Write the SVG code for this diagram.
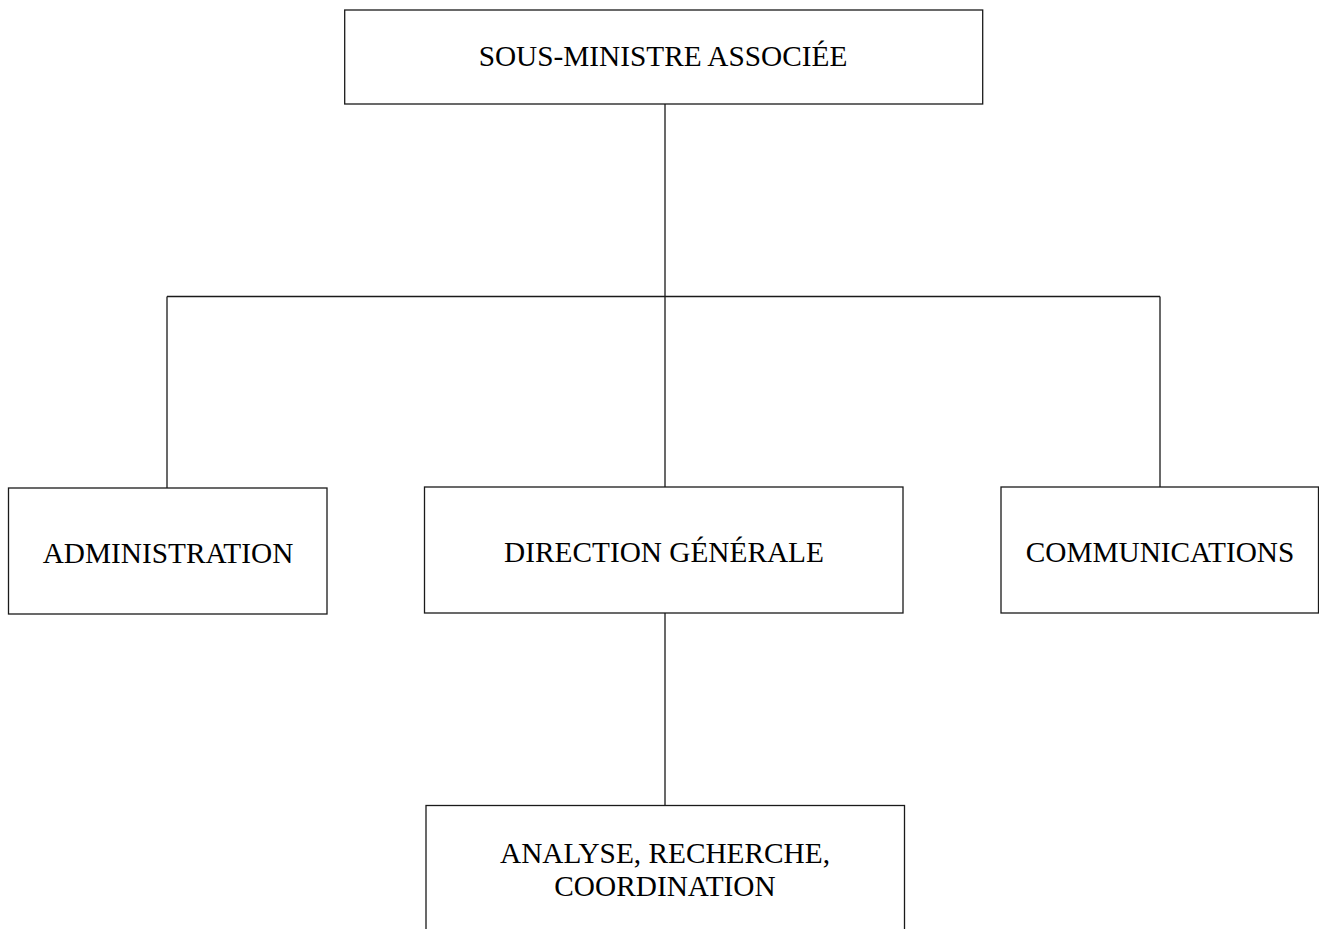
<svg xmlns="http://www.w3.org/2000/svg" width="1319" height="929" viewBox="0 0 1319 929">
<style>
.box{fill:#fff;stroke:#1a1a1a;stroke-width:1.3}
.ln{fill:none;stroke:#1a1a1a;stroke-width:1.3}
.t{font-family:"Liberation Serif","Times New Roman",serif;font-size:29.3px;fill:#000;text-anchor:middle}
</style>
<rect width="1319" height="929" fill="#fff"/>
<g id="connectors">
<path class="ln" d="M665 104V296.5M167 296.5H1160M167 296.5V488M665 296.5V487M1160 296.5V487M665 613V805.5"/>
</g>
<g id="n-sous-ministre">
<rect class="box" x="344.7" y="10" width="638" height="94"/>
<text class="t" x="663" y="66">SOUS-MINISTRE ASSOCIÉE</text>
</g>
<g id="n-administration">
<rect class="box" x="8.5" y="488" width="318.5" height="126"/>
<text class="t" x="168" y="562.5">ADMINISTRATION</text>
</g>
<g id="n-direction">
<rect class="box" x="424.5" y="487" width="478.5" height="126"/>
<text class="t" x="664" y="562">DIRECTION GÉNÉRALE</text>
</g>
<g id="n-communications">
<rect class="box" x="1001" y="487" width="317.5" height="126"/>
<text class="t" x="1160" y="561.5">COMMUNICATIONS</text>
</g>
<g id="n-analyse">
<rect class="box" x="426" y="805.5" width="478.5" height="160"/>
<text class="t" x="665" y="863">ANALYSE, RECHERCHE,</text>
<text class="t" x="665" y="896">COORDINATION</text>
</g>
</svg>
